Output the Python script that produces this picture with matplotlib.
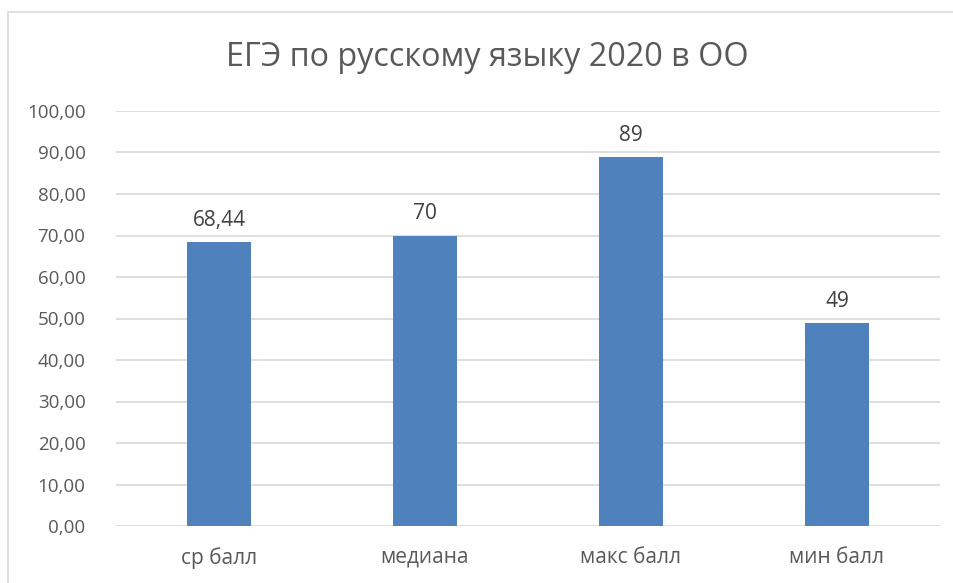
import matplotlib
matplotlib.use("Agg")
import matplotlib.pyplot as plt
from matplotlib.patches import Rectangle

categories = ["ср балл", "медиана", "макс балл", "мин балл"]
values = [68.44, 70, 89, 49]
value_labels = ["68,44", "70", "89", "49"]
title = "ЕГЭ по русскому языку 2020 в ОО"
yticks = [0, 10, 20, 30, 40, 50, 60, 70, 80, 90, 100]

plt.rcParams['font.family'] = ['Open Sans', 'DejaVu Sans']
text_color = "#595959"

fig = plt.figure(figsize=(9.54, 5.83), dpi=100)
fig.patches.append(Rectangle((8/954, -0.1), 2.0, 1 - 12/583 + 0.1, transform=fig.transFigure,
                             fill=False, edgecolor="#D9D9D9", linewidth=1.2))
ax = fig.add_axes([116/954, 1 - 526/583, (940 - 116)/954, (526 - 111)/583])

x = range(len(categories))
ax.bar(x, values, width=0.31, color="#4F81BD", zorder=3)
for xi, v, lab in zip(x, values, value_labels):
    ax.annotate(lab, (xi, v), xytext=(0, 8), textcoords="offset points",
                ha="center", va="bottom", fontsize=15, color="#404040")

ax.set_xlim(-0.5, len(categories) - 0.5)
ax.set_ylim(0, 100)
ax.set_yticks(yticks)
ax.set_yticklabels([f"{t:.2f}".replace(".", ",") for t in yticks])
ax.set_xticks(list(x))
ax.set_xticklabels(categories)
ax.tick_params(axis="both", length=0, colors=text_color)
ax.tick_params(axis="y", pad=22, labelsize=13.5)
ax.tick_params(axis="x", pad=15, labelsize=15)
ax.grid(axis="y", color="#D9D9D9", linewidth=1.2, zorder=0)
for s in ax.spines.values():
    s.set_visible(False)

fig.text(487/954, 1 - 58/583, title, ha="center", va="center", fontsize=23.3, color=text_color)

fig.savefig("out.png", dpi=100)
